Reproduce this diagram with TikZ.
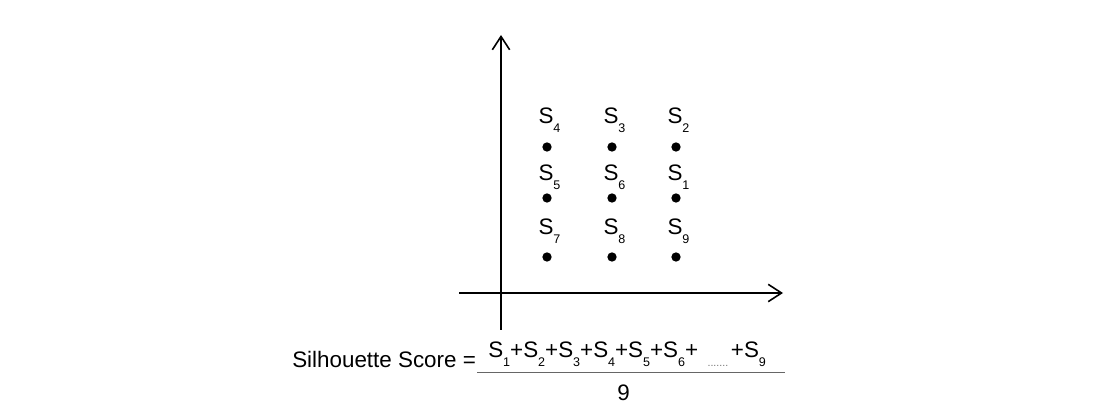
\documentclass[tikz,border=0pt]{standalone}
\usepackage{fontspec}
\setmainfont{Liberation Sans}
\usetikzlibrary{arrows.meta}
\newcommand{\Sn}[1]{S\raisebox{-6.5pt}{\fontsize{9.4}{10}\selectfont #1}}
\begin{document}
\begin{tikzpicture}[x=0.75pt,y=-0.75pt,
  axis/.style={line width=1.4pt, -{Straight Barb[length=10pt,width=13pt,line width=1.2pt]}},
  dot/.style={circle, fill=black, inner sep=0pt, minimum size=7pt},
  lbl/.style={anchor=base, inner sep=0pt, font=\fontsize{16.8}{18}\selectfont},
  txt/.style={inner sep=0pt, font=\fontsize{16.8}{18}\selectfont},
  fracline/.style={line width=0.7pt, black!60}]
\useasboundingbox (0,0) rectangle (1120,416);
% axes
\coordinate (ybot) at (501,330);
\coordinate (ytop) at (501,35);
\coordinate (xl) at (459,293);
\coordinate (xr) at (783,293);
\draw[axis] (ybot) -- (ytop);
\draw[axis] (xl) -- (xr);
% dots
\node[dot] (d4) at (547,147) {};
\node[dot] (d3) at (612,147) {};
\node[dot] (d2) at (676,147) {};
\node[dot] (d5) at (547,198) {};
\node[dot] (d6) at (612,198) {};
\node[dot] (d1) at (676,198) {};
\node[dot] (d7) at (547,257) {};
\node[dot] (d8) at (612,257) {};
\node[dot] (d9) at (676,257) {};
% labels
\node[lbl] (l4) at (549.5,124) {\Sn{4}};
\node[lbl] (l3) at (614.5,124) {\Sn{3}};
\node[lbl] (l2) at (678.5,124) {\Sn{2}};
\node[lbl] (l5) at (549.5,181) {\Sn{5}};
\node[lbl] (l6) at (614.5,181) {\Sn{6}};
\node[lbl] (l1) at (678.5,181) {\Sn{1}};
\node[lbl] (l7) at (549.5,235) {\Sn{7}};
\node[lbl] (l8) at (614.5,235) {\Sn{8}};
\node[lbl] (l9) at (678.5,235) {\Sn{9}};
% formula
\node[txt, anchor=base west] (ss) at (292,368) {Silhouette Score =};
\node[txt, anchor=base west] (num) at (488,358) {\Sn{1}+\Sn{2}+\Sn{3}+\Sn{4}+\Sn{5}+\Sn{6}+\hspace{7pt}\raisebox{-6.5pt}{\textcolor{black!55}{\fontsize{8}{8}\selectfont .......}}\hspace{2pt}+\Sn{9}};
\coordinate (fl) at (477,372);
\coordinate (fr) at (785,372);
\draw[fracline] (fl) -- (fr);
\node[txt, anchor=base] (den) at (623.5,400) {9};
\end{tikzpicture}
\end{document}
